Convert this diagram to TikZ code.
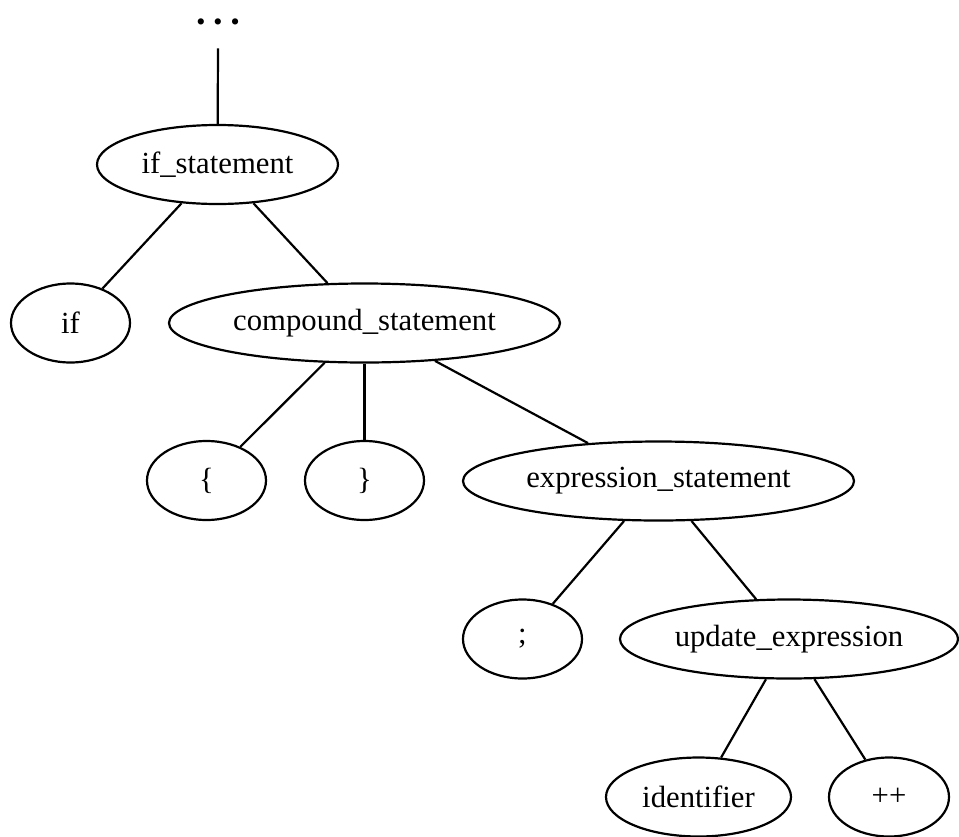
\documentclass[tikz,border=0pt]{standalone}
\usepackage{fontspec}
\setmainfont{Liberation Serif}
\usepackage{tikz}
\usetikzlibrary{shapes.geometric}

\begin{document}
\begin{tikzpicture}[x=0.5pt, y=-0.5pt,
        treenode/.style={draw, ellipse, line width=1.1pt, inner sep=0pt,
                minimum height=39.5pt, font=\fontsize{15.35}{18}\selectfont},
        treeedge/.style={line width=1.1pt}]

        \useasboundingbox (0,0) rectangle (959,836);

        %Top
        \node [inner sep=0pt, minimum height=23pt, font=\fontsize{13}{13}\selectfont] (dots) at (218,25)
                {\textbullet\hspace{4pt}\textbullet\hspace{4pt}\textbullet};
        \node [treenode, minimum width=120.5pt] (ifstmt) at (217.5,164.5) {if\_statement};

        %Level 1
        \node [treenode, minimum width=59.5pt] (ifkw) at (70.5,323) {if};
        \node [treenode, minimum width=195.5pt] (compound) at (364.5,323) {compound\_statement};

        %Level 2
        \node [treenode, minimum width=59.5pt] (lbrace) at (206.5,480.5) {\{};
        \node [treenode, minimum width=59.5pt] (rbrace) at (364.5,480.5) {\}};
        \node [treenode, minimum width=195.5pt] (exprstmt) at (658.5,481) {expression\_statement};

        %Level 3
        \node [treenode, minimum width=59.5pt] (semi) at (522.5,639) {;};
        \node [treenode, minimum width=169pt] (update) at (789,639) {update\_expression};

        %Level 4
        \node [treenode, minimum width=92.5pt] (ident) at (698.5,797) {identifier};
        \node [treenode, minimum width=60pt] (incr) at (889,797) {++};

        %Edges
        \draw [treeedge] (dots.south) -- (ifstmt);
        \draw [treeedge] (ifstmt) -- (ifkw);
        \draw [treeedge] (ifstmt) -- (compound);
        \draw [treeedge] (compound) -- (lbrace);
        \draw [treeedge] (compound) -- (rbrace);
        \draw [treeedge] (compound) -- (exprstmt);
        \draw [treeedge] (exprstmt) -- (semi);
        \draw [treeedge] (exprstmt) -- (update);
        \draw [treeedge] (update) -- (ident);
        \draw [treeedge] (update) -- (incr);

\end{tikzpicture}
\end{document}
